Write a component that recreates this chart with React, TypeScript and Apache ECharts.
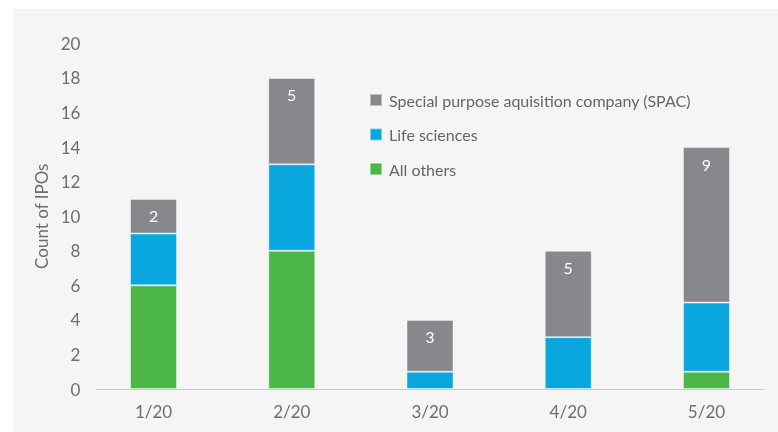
import React, { useEffect, useRef } from "react";
import * as echarts from "echarts";

const categories = ["1/20", "2/20", "3/20", "4/20", "5/20"];
const allOthers = [6, 8, 0, 0, 1];
const lifeSciences = [3, 5, 1, 3, 4];
const spac = [2, 5, 3, 5, 9];
const seriesNames = ["Special purpose aquisition company (SPAC)", "Life sciences", "All others"];

const FONT = "Lato, 'Liberation Sans', sans-serif";

export default function App() {
  const ref = useRef<HTMLDivElement>(null);
  useEffect(() => {
    if (!ref.current) return;
    const chart = echarts.init(ref.current, undefined, { renderer: "svg" });
    const barStyle = (color: string) => ({
      color,
      borderColor: "rgba(255,255,255,0.45)",
      borderWidth: 1,
    });
    chart.setOption({
      animation: false,
      textStyle: { fontFamily: FONT },
      graphic: [
        {
          type: "rect",
          z: -10,
          silent: true,
          shape: { x: 13, y: 9, width: 765, height: 423 },
          style: { fill: "#f5f5f5" },
        },
        {
          type: "line",
          z: 10,
          silent: true,
          shape: { x1: 96, y1: 389.5, x2: 764, y2: 389.5 },
          style: { stroke: "#c8c8c8", lineWidth: 1 },
        },
      ],
      grid: { left: 84.4, right: 2.4, top: 43.4, bottom: 43 },
      legend: {
        orient: "vertical",
        left: 364,
        top: 87,
        itemWidth: 12,
        itemHeight: 12,
        itemGap: 18.5,
        icon: "rect",
        data: seriesNames,
        textStyle: { fontFamily: FONT, fontSize: 16, color: "#666", lineHeight: 16, padding: [0, 0, 0, 2] },
      },
      xAxis: {
        type: "category",
        data: categories,
        axisLine: { show: false },
        axisTick: { show: false },
        axisLabel: { fontFamily: FONT, fontSize: 17, color: "#6e6e6e", margin: 14 },
      },
      yAxis: {
        type: "value",
        min: 0,
        max: 20,
        interval: 2,
        name: "Count of IPOs",
        nameLocation: "middle",
        nameGap: 31,
        nameRotate: 90,
        nameTextStyle: { fontFamily: FONT, fontSize: 17, color: "#6e6e6e" },
        axisLine: { show: false },
        axisTick: { show: false },
        splitLine: { show: false },
        axisLabel: { fontFamily: FONT, fontSize: 17, color: "#6e6e6e", margin: 4 },
      },
      series: [
        {
          name: seriesNames[2],
          type: "bar",
          stack: "total",
          barWidth: 47,
          data: allOthers,
          itemStyle: barStyle("#4cb748"),
        },
        {
          name: seriesNames[1],
          type: "bar",
          stack: "total",
          barWidth: 47,
          data: lifeSciences,
          itemStyle: barStyle("#09a7de"),
        },
        {
          name: seriesNames[0],
          type: "bar",
          stack: "total",
          barWidth: 47,
          data: spac,
          itemStyle: barStyle("#87888c"),
          label: {
            show: true,
            position: "insideTop",
            distance: 9,
            color: "#ffffff",
            fontFamily: FONT,
            fontSize: 16,
          },
        },
      ],
    });
    return () => chart.dispose();
  }, []);
  return (
    <div
      ref={ref}
      style={{ position: "fixed", left: 0, top: 0, width: 778, height: 432 }}
    />
  );
}
